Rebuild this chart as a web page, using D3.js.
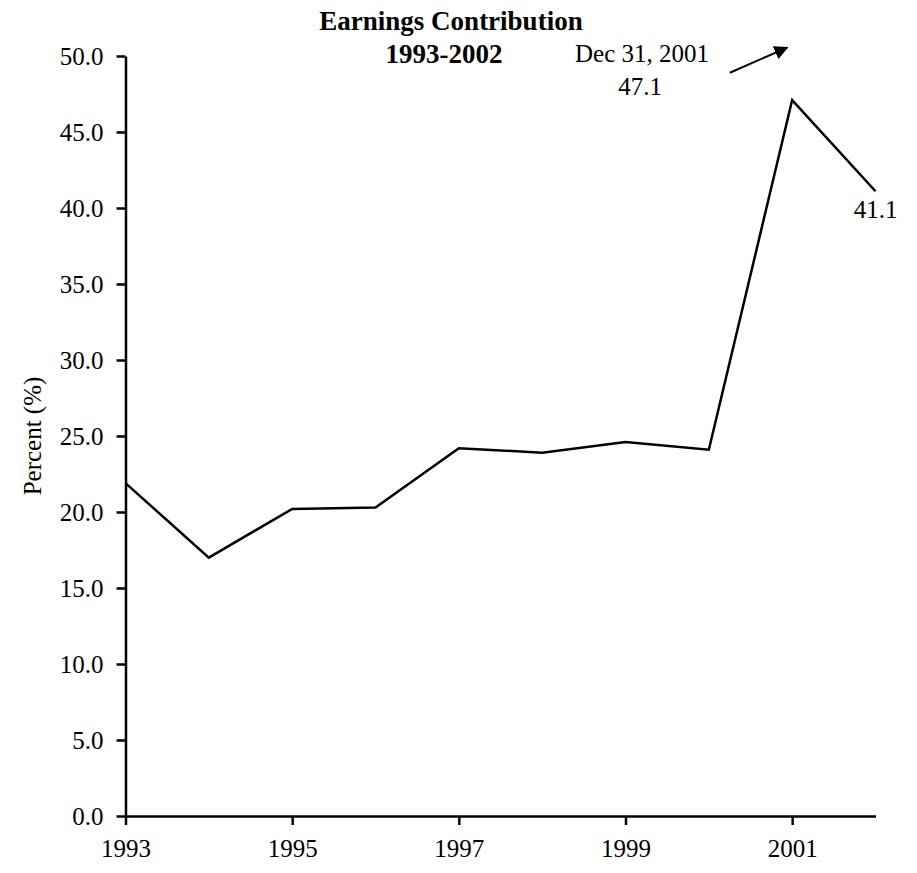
<!DOCTYPE html>
<html>
<head>
<meta charset="utf-8">
<script src="https://cdn.jsdelivr.net/npm/d3@7"></script>
<style>
  html, body { margin: 0; padding: 0; background: #fff; }
  text { font-family: "Liberation Serif", "Times New Roman", serif; fill: #000; }
</style>
</head>
<body>
<svg id="chart" width="917" height="873"></svg>
<script>
const years = [1993, 1994, 1995, 1996, 1997, 1998, 1999, 2000, 2001, 2002];
const values = [21.9, 17.0, 20.2, 20.3, 24.2, 23.9, 24.6, 24.1, 47.1, 41.1];
const xTickYears = [1993, 1995, 1997, 1999, 2001];
const yTicks = [0, 5, 10, 15, 20, 25, 30, 35, 40, 45, 50];
const titleLines = ["Earnings Contribution", "1993-2002"];
const yLabel = "Percent (%)";
const peakNote = ["Dec 31, 2001", "47.1"];
const lastNote = "41.1";

const svg = d3.select("#chart");
const x = d3.scaleLinear().domain([1993, 2002]).range([125.5, 875.5]);
const y = d3.scaleLinear().domain([0, 50]).range([816, 56]);

const fs = 25;

// Y axis
const yAxis = svg.append("g")
  .attr("transform", `translate(${x(1993)},0)`)
  .call(d3.axisLeft(y).tickValues(yTicks).tickFormat(d3.format(".1f")).tickSize(9).tickSizeOuter(0).tickPadding(13));
yAxis.select(".domain").attr("stroke-width", 2.5);
yAxis.selectAll(".tick line").attr("stroke-width", 2.5);
yAxis.selectAll("text").attr("font-size", fs).attr("font-family", "Liberation Serif").attr("dy", "0.34em");

// X axis
const xAxis = svg.append("g")
  .attr("transform", `translate(0,${y(0)})`)
  .call(d3.axisBottom(x).tickValues(xTickYears).tickFormat(d3.format("d")).tickSize(9).tickSizeOuter(0).tickPadding(14));
xAxis.select(".domain").attr("stroke-width", 2.5);
xAxis.selectAll(".tick line").attr("stroke-width", 2.5);
xAxis.selectAll("text").attr("font-size", fs).attr("font-family", "Liberation Serif");

// Line
const line = d3.line().x((d, i) => x(years[i])).y(d => y(d));
svg.append("path")
  .datum(values)
  .attr("fill", "none")
  .attr("stroke", "#000")
  .attr("stroke-width", 2.5)
  .attr("stroke-linejoin", "miter")
  .attr("d", line);

// Title
svg.append("text").attr("x", 451).attr("y", 30).attr("text-anchor", "middle")
  .attr("font-size", 27).attr("font-weight", "bold").text(titleLines[0]);
svg.append("text").attr("x", 444).attr("y", 63).attr("text-anchor", "middle")
  .attr("font-size", 27).attr("font-weight", "bold").text(titleLines[1]);

// Y label
svg.append("text")
  .attr("transform", `translate(41,${y(25)}) rotate(-90)`)
  .attr("text-anchor", "middle")
  .attr("font-size", fs).text(yLabel);

// Peak annotation
svg.append("text").attr("x", 642).attr("y", 62).attr("text-anchor", "middle")
  .attr("font-size", fs).text(peakNote[0]);
svg.append("text").attr("x", 640).attr("y", 95).attr("text-anchor", "middle")
  .attr("font-size", fs).text(peakNote[1]);

// Arrow
const defs = svg.append("defs");
defs.append("marker").attr("id", "arrow").attr("viewBox", "0 0 10 10")
  .attr("refX", 9).attr("refY", 5).attr("markerWidth", 7).attr("markerHeight", 7)
  .attr("orient", "auto")
  .append("path").attr("d", "M0,0 L10,5 L0,10 Z").attr("fill", "#000");
const ax0 = x(2000) + 21, ay0 = y(48.9);
const ax1 = x(2001) - 5, ay1 = y(50.55);
svg.append("line").attr("x1", ax0).attr("y1", ay0).attr("x2", ax1).attr("y2", ay1)
  .attr("stroke", "#000").attr("stroke-width", 2).attr("marker-end", "url(#arrow)");

// Last value label
svg.append("text").attr("x", x(2002)).attr("y", y(values[9]) + 27).attr("text-anchor", "middle")
  .attr("font-size", fs).text(lastNote);
</script>
</body>
</html>
